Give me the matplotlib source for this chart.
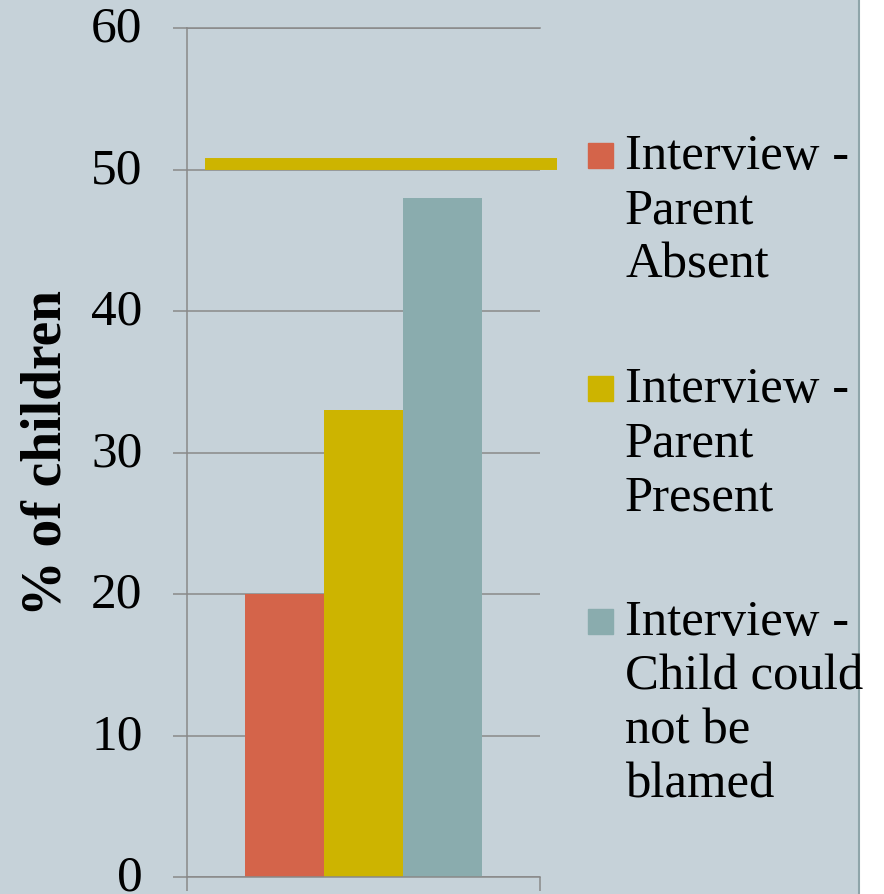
import matplotlib
matplotlib.use("Agg")
import matplotlib.pyplot as plt
import matplotlib.transforms as mtransforms
from matplotlib.patches import Rectangle
from matplotlib.lines import Line2D

# interview outcomes, % of children
labels = ["Interview -\nParent\nAbsent",
          "Interview -\nParent\nPresent",
          "Interview -\nChild could\nnot be\nblamed"]
values = [20, 33, 48]
colors = ["#D4644A", "#CDB400", "#8AACAE"]
ref_level = 50.4          # horizontal reference band
y_ticks = [0, 10, 20, 30, 40, 50, 60]

BG = "#C6D2D9"
AXC = "#898989"
W, H = 884, 895

plt.rcParams.update({"font.family": ["Liberation Serif", "DejaVu Serif"]})

fig = plt.figure(figsize=(W / 100, H / 100), dpi=100, facecolor=BG)
ax = fig.add_axes([187 / W, 1 - 878 / H, 353 / W, 849 / H])
ax.set_facecolor(BG)

bw = 79 / 353
offsets = [-bw, 0, bw]
for off, v, c in zip(offsets, values, colors):
    ax.bar(off, v, width=bw, color=c, zorder=2)

ax.set_xlim(-0.5, 0.5)
ax.set_ylim(0, 60)
ax.set_yticks(y_ticks)
ax.set_xticks([-0.5, 0.5])
ax.set_xticklabels([])
ax.yaxis.grid(True, color=AXC, linewidth=1.1, zorder=1)
ax.set_axisbelow(True)
for s in ("top", "left", "bottom"):
    ax.spines[s].set_color(AXC)
    ax.spines[s].set_linewidth(1.1)
ax.spines["right"].set_visible(False)
ax.tick_params(axis="y", direction="out", length=10, width=1.1, color=AXC,
               labelsize=37, pad=22)
ax.tick_params(axis="x", direction="out", length=10, width=1.1, color=AXC)

# nudge the y tick numbers up a touch so "0" stays inside the figure
nudge = mtransforms.ScaledTranslation(0, 5 / 100, fig.dpi_scale_trans)
for lab in ax.get_yticklabels():
    lab.set_transform(lab.get_transform() + nudge)

# reference band, runs a little past the plot edge
ax.plot([-0.449, 0.548], [ref_level, ref_level], color=colors[1], linewidth=8.6,
        solid_capstyle="butt", clip_on=False, zorder=3)

ax.set_ylabel("% of children", fontsize=40, fontweight="bold", labelpad=13)

# right-hand panel edge
fig.patches.append(Rectangle((859 / W, 0), 25 / W, 1, transform=fig.transFigure,
                             color="white", zorder=0))
fig.lines.append(Line2D([859 / W, 859 / W], [0, 1], transform=fig.transFigure,
                        color="#8FA5AA", linewidth=1.5, zorder=1))

# legend: square swatch + wrapped text
tops = [137, 370, 603]
for lab, c, t in zip(labels, colors, tops):
    fig.patches.append(Rectangle((588 / W, 1 - (t + 32) / H), 25 / W, 25 / H,
                                 transform=fig.transFigure, color=c))
    fig.text(625 / W, 1 - (t - 3) / H, lab, fontsize=36.5, va="top",
             ha="left", linespacing=1.21, zorder=3)

fig.savefig("out.png", dpi=100, facecolor=BG)
